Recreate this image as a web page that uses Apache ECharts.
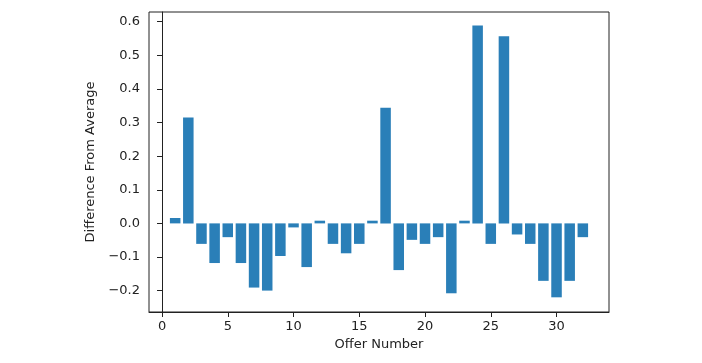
<!DOCTYPE html>
<html>
<head>
<meta charset="utf-8">
<script src="https://cdn.jsdelivr.net/npm/echarts@6/dist/echarts.min.js"></script>
<style>html,body{margin:0;padding:0;background:#fff}#c{width:702px;height:363px}</style>
</head>
<body>
<div id="c"></div>
<script>
const offers = [1,2,3,4,5,6,7,8,9,10,11,12,13,14,15,16,17,18,19,20,21,22,23,24,25,26,27,28,29,30,31,32];
const diffs = [0.016,0.315,-0.061,-0.118,-0.041,-0.118,-0.191,-0.200,-0.097,-0.012,-0.130,0.008,-0.061,-0.089,
  -0.061,0.008,0.344,-0.139,-0.049,-0.061,-0.041,-0.208,0.008,0.589,-0.061,0.557,-0.033,-0.061,-0.171,-0.220,-0.171,-0.041];
const xTicks = [0,5,10,15,20,25,30];
const yTicks = [-0.2,-0.1,0.0,0.1,0.2,0.3,0.4,0.5,0.6];

const chart = echarts.init(document.getElementById('c'));
const font = 'DejaVu Sans';
chart.setOption({
  animation: false,
  grid: {left: 149, right: 93, top: 12, bottom: 51, show: true, borderColor: '#222', borderWidth: 1, containLabel: false},
  xAxis: {
    type: 'value', min: -0.99, max: 33.99,
    name: 'Offer Number', nameLocation: 'middle', nameGap: 26,
    nameTextStyle: {fontFamily: font, fontSize: 13, color: '#222'},
    axisLine: {show: true, onZero: false, lineStyle: {color: '#222'}},
    axisTick: {show: true, length: 5, customValues: xTicks, lineStyle: {color: '#222'}},
    axisLabel: {customValues: xTicks, margin: 8, fontFamily: font, fontSize: 13, color: '#222'},
    splitLine: {show: false}
  },
  yAxis: {
    type: 'value', min: -0.2637, max: 0.629,
    name: 'Difference From Average', nameLocation: 'middle', nameGap: 49,
    nameTextStyle: {fontFamily: font, fontSize: 13, color: '#222'},
    axisLine: {show: true, lineStyle: {color: '#222'}},
    axisTick: {show: true, length: 5, customValues: yTicks, lineStyle: {color: '#222'}},
    axisLabel: {customValues: yTicks, margin: 9, fontFamily: font, fontSize: 13, color: '#222',
      formatter: v => v.toFixed(1).replace('-', '\u2212')},
    splitLine: {show: false}
  },
  series: [{
    type: 'bar',
    data: offers.map((o, i) => [o, diffs[i]]),
    barWidth: '80%',
    itemStyle: {color: '#2a7fb8'}
  }]
});
</script>
</body>
</html>
